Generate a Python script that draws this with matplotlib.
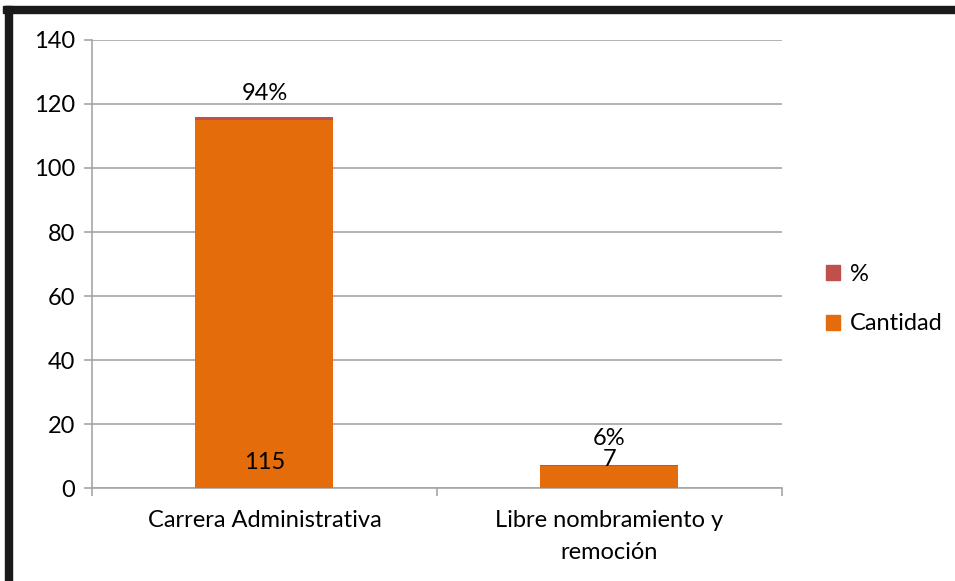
import matplotlib.pyplot as plt
from matplotlib.patches import Rectangle, Patch

plt.rcParams['font.family'] = ['Lato', 'DejaVu Sans']

categories = ['Carrera Administrativa', 'Libre nombramiento y\nremoción']
cantidad = [115, 7]
porcentaje = [0.94, 0.06]
pct_labels = ['94%', '6%']

orange = '#E46C0A'
red = '#C0504D'
grid_c = '#A6A6A6'
fs = 17

fig = plt.figure(figsize=(9.55, 5.81), dpi=100)
ax = fig.add_axes([0.0963, 0.16, 0.7225, 0.7712])

x = range(len(categories))
ax.bar(x, cantidad, width=0.4, color=orange, zorder=3)
ax.bar(x, porcentaje, width=0.4, bottom=cantidad, color=red, zorder=3)

# data labels
ax.text(0, 8.1, str(cantidad[0]), ha='center', va='center', fontsize=fs, zorder=4)
ax.text(0, 123.4, pct_labels[0], ha='center', va='center', fontsize=fs, zorder=4)
ax.text(1, 8.8, str(cantidad[1]), ha='center', va='center', fontsize=fs, zorder=4)
ax.text(1, 15.6, pct_labels[1], ha='center', va='center', fontsize=fs, zorder=4)

ax.set_xlim(-0.5, 1.5)
ax.set_ylim(0, 140)
ax.set_yticks(range(0, 141, 20))
ax.yaxis.grid(True, color=grid_c, linewidth=1.2, zorder=0)
ax.set_xticks([-0.5, 0.5, 1.5])
ax.set_xticklabels([])
ax.set_xticks([0, 1], minor=True)
ax.set_xticklabels(categories, minor=True, fontsize=fs, linespacing=1.65)
ax.tick_params(axis='x', which='minor', length=0, pad=16)
ax.tick_params(axis='x', which='major', length=6, color=grid_c, width=1.2)
ax.tick_params(axis='y', length=6, color=grid_c, width=1.2, labelsize=fs, pad=6)

for s in ['top', 'right']:
    ax.spines[s].set_visible(False)
for s in ['left', 'bottom']:
    ax.spines[s].set_color(grid_c)
    ax.spines[s].set_linewidth(1.2)

handles = [Patch(color=red, label='%'), Patch(color=orange, label='Cantidad')]
fig.legend(handles=handles, loc='center left', bbox_to_anchor=(0.843, 0.485),
           frameon=False, fontsize=fs, handlelength=0.6, handleheight=0.6,
           handletextpad=0.4, labelspacing=1.2)

# black frame on top and left
fig.patches.append(Rectangle((0.003, 0.978), 0.997, 0.011, transform=fig.transFigure,
                             color='#1a1a1a', zorder=10))
fig.patches.append(Rectangle((0.005, 0.0), 0.0075, 0.989, transform=fig.transFigure,
                             color='#1a1a1a', zorder=10))

fig.savefig('out.png', dpi=100)
